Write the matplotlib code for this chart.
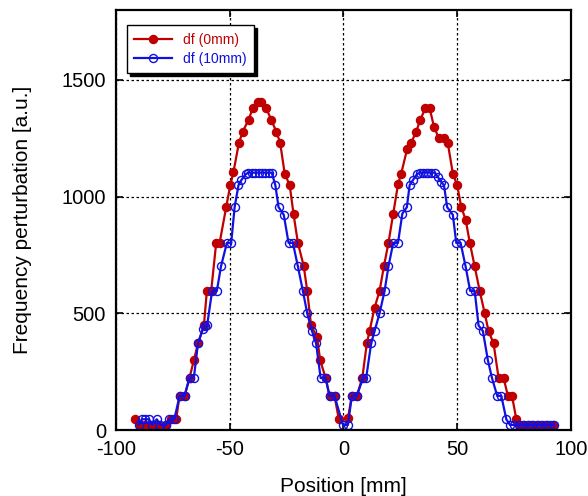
import matplotlib.pyplot as plt

plt.rcParams['font.family'] = ['Liberation Sans', 'DejaVu Sans']
plt.rcParams['axes.unicode_minus'] = False

# df (0mm)
x_red = [-91.5, -89.6, -87.3, -85.0, -83.7, -81.5, -78.0, -75.7, -73.5, -72.0,
         -69.8, -67.6, -65.7, -63.9, -61.3, -60.0, -58.1, -55.9, -54.4, -51.5,
         -49.7, -48.3, -45.9, -44.2, -41.7, -39.8, -37.6, -36.1, -33.9, -31.7,
         -29.5, -27.8, -25.8, -23.6, -21.9, -20.0, -17.4, -15.9, -14.2, -11.6,
         -10.2, -7.8, -6.1, -3.9, -2.0, 2.0, 3.7, 5.9, 8.3, 10.3,
         11.5, 13.7, 15.9, 17.8, 19.8, 21.9, 24.0, 25.4, 28.0, 29.8,
         32.0, 33.8, 36.0, 37.9, 39.8, 41.8, 44.2, 45.9, 48.1, 50.0,
         51.8, 53.7, 55.6, 57.7, 59.9, 62.1, 63.8, 66.0, 68.2, 70.4,
         72.3, 74.1, 76.0, 77.4, 79.5, 81.5, 83.5, 85.5, 87.5, 89.5, 92.0]
y_red = [46, 22, 22, 22, 22, 22, 22, 46, 46, 146,
         146, 225, 299, 371, 448, 596, 596, 802, 802, 955,
         1049, 1106, 1231, 1279, 1329, 1379, 1405, 1405, 1379, 1329,
         1279, 1231, 1099, 1049, 925, 802, 701, 596, 448, 399,
         299, 223, 146, 146, 46, 50, 146, 146, 223, 371,
         424, 524, 596, 701, 802, 927, 1052, 1099, 1203, 1231,
         1279, 1329, 1379, 1379, 1300, 1253, 1253, 1228, 1099, 1049,
         955, 902, 800, 701, 596, 500, 424, 371, 223, 223,
         146, 146, 46, 22, 22, 22, 22, 22, 22, 22, 22]

# df (10mm)
x_blue = [-90.0, -88.5, -87.3, -85.5, -84.0, -82.0, -80.5, -78.0, -76.5, -74.3,
          -72.0, -69.8, -67.6, -65.7, -63.9, -61.8, -61.0, -59.9, -57.7, -55.6,
          -53.8, -51.2, -49.3, -47.8, -46.1, -44.9, -43.0, -41.8, -40.3, -38.8,
          -37.3, -35.8, -34.3, -32.8, -31.5, -29.9, -28.5, -26.2, -24.1, -22.2,
          -20.0, -17.8, -15.9, -13.8, -12.0, -10.0, -7.8, -6.1, -3.9, -0.2,
          2.0, 3.7, 5.9, 8.6, 10.0, 12.2, 13.7, 15.9, 18.1, 19.8,
          21.9, 24.0, 25.9, 27.9, 29.1, 30.5, 32.3, 33.5, 34.8, 36.1,
          37.4, 38.7, 40.1, 41.5, 43.0, 44.2, 45.6, 48.1, 49.6, 51.5,
          53.7, 55.7, 57.7, 59.4, 61.3, 63.5, 65.3, 67.6, 69.4, 71.6,
          73.2, 75.0, 77.0, 79.0, 81.0, 83.0, 85.0, 87.0, 89.0, 91.0, 92.5]
y_blue = [22, 46, 46, 46, 22, 46, 22, 22, 46, 46,
          146, 146, 225, 225, 371, 431, 445, 448, 596, 596,
          701, 802, 802, 955, 1049, 1070, 1095, 1103, 1103, 1103,
          1103, 1103, 1103, 1103, 1103, 1049, 955, 922, 802, 802,
          701, 596, 500, 424, 371, 223, 223, 146, 146, 22,
          22, 146, 146, 223, 223, 371, 424, 500, 596, 701,
          802, 802, 927, 955, 1049, 1070, 1095, 1103, 1103, 1103,
          1103, 1103, 1103, 1084, 1063, 1049, 955, 922, 802, 802,
          701, 596, 596, 448, 424, 299, 223, 146, 146, 46,
          22, 22, 22, 22, 22, 22, 22, 22, 22, 22, 22]

fig = plt.figure(figsize=(5.88, 4.96), dpi=100)
ax = fig.add_axes([0.197, 0.133, 0.774, 0.847])

ax.plot(x_red, y_red, color='#c00000', lw=1.6, marker='o', ms=5.8,
        mfc='#c00000', mec='#c00000', label='df (0mm)')
ax.plot(x_blue, y_blue, color='#1010e0', lw=1.6, marker='o', ms=5.8,
        mfc='none', mec='#1010e0', mew=1.0, label='df (10mm)')

ax.set_xlim(-100, 100)
ax.set_ylim(0, 1800)
ax.set_xticks([-100, -50, 0, 50, 100])
ax.set_yticks([0, 500, 1000, 1500])
ax.grid(True, color='black', linestyle=(0, (2, 2)), linewidth=0.9)
ax.tick_params(direction='in', top=True, right=True, length=5, width=1.2,
               labelsize=14.5)
ax.tick_params(axis='x', pad=7)
ax.tick_params(axis='y', pad=7)
for s in ax.spines.values():
    s.set_linewidth(1.6)

ax.set_xlabel('Position [mm]', fontsize=15, labelpad=13)
ax.set_ylabel('Frequency perturbation [a.u.]', fontsize=15, labelpad=21)

leg = ax.legend(loc='upper left', bbox_to_anchor=(0.024, 0.964), fontsize=10,
                fancybox=False, edgecolor='black', framealpha=1,
                shadow={'color': 'black', 'alpha': 1}, handlelength=2.7,
                borderaxespad=0, labelspacing=0.35, borderpad=0.55)
leg.get_frame().set_linewidth(1.0)
for t, c in zip(leg.get_texts(), ['#c00000', '#1010e0']):
    t.set_color(c)

fig.savefig('out.png', dpi=100)
